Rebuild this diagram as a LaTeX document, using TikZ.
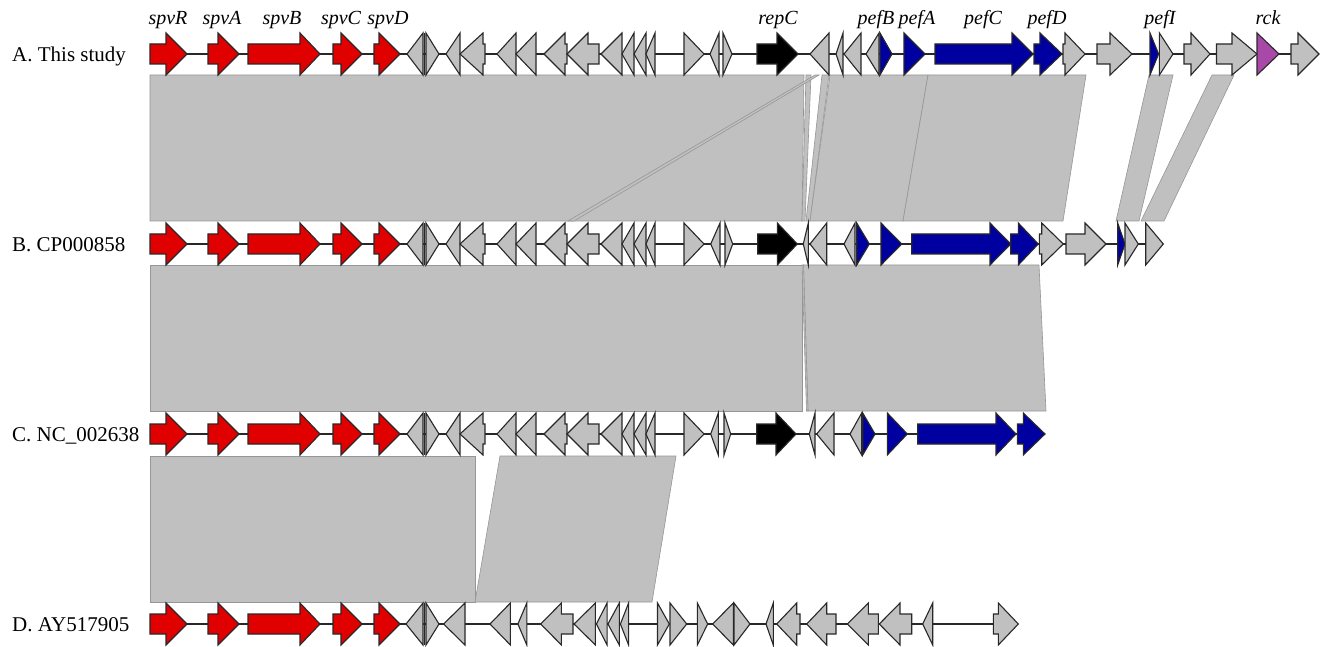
\documentclass[tikz,border=0pt]{standalone}
\usepackage{fontspec}
\setmainfont{Liberation Serif}
\definecolor{gred}{RGB}{224,0,0}
\definecolor{gblue}{RGB}{0,0,160}
\definecolor{ggray}{RGB}{192,192,192}
\definecolor{gpurple}{RGB}{168,72,168}
\definecolor{bandc}{RGB}{192,192,192}
\definecolor{bandedge}{RGB}{150,150,150}
\definecolor{edgec}{RGB}{40,40,40}
\tikzset{
  genebase/.style={draw=edgec, line width=1.1pt, line join=miter},
  redg/.style={genebase, fill=gred},
  blueg/.style={genebase, fill=gblue},
  grayg/.style={genebase, fill=ggray},
  blackg/.style={genebase, fill=black},
  purpleg/.style={genebase, fill=gpurple},
  backbone/.style={draw=edgec, line width=1.2pt},
  thinline/.style={draw=edgec, line width=1.1pt},
  band/.style={fill=bandc, draw=bandedge, line width=0.6pt},
  trklab/.style={font=\fontsize{21}{24}\selectfont, anchor=base west, inner sep=0pt},
  genelab/.style={font=\fontsize{20}{22}\selectfont\itshape, anchor=base, inner sep=0pt},
}
% y, tail, head base, tip, style
\newcommand{\garr}[5]{\filldraw[#5] (#2,#1-10) -- (#3,#1-10) -- (#3,#1-21) -- (#4,#1) -- (#3,#1+21) -- (#3,#1+10) -- (#2,#1+10) -- cycle;}
% y, base, tip, style
\newcommand{\gtri}[4]{\filldraw[#4] (#2,#1-21) -- (#3,#1) -- (#2,#1+21) -- cycle;}
% y, x : a gene too small to show a shape
\newcommand{\gbar}[2]{\draw[thinline] (#2,#1-21) -- (#2,#1+21);}
\newcommand{\redset}[1]{%
  \garr{#1}{150}{166}{187}{redg}
  \garr{#1}{208}{218}{239}{redg}
  \garr{#1}{248}{300}{320}{redg}
  \garr{#1}{333}{341}{362}{redg}
  \garr{#1}{374}{379}{400}{redg}}
\newcommand{\graycommon}[1]{%
  \gtri{#1}{423}{407}{grayg}
  \gbar{#1}{424.5}
  \gtri{#1}{426}{439}{grayg}
  \gtri{#1}{460}{446}{grayg}
  \garr{#1}{485}{483}{460}{grayg}
  \gtri{#1}{516}{497}{grayg}
  \gtri{#1}{536}{516}{grayg}
  \garr{#1}{567}{565}{544}{grayg}
  \garr{#1}{599}{588}{567}{grayg}
  \gtri{#1}{622}{601}{grayg}
  \gtri{#1}{634}{622}{grayg}
  \gtri{#1}{646}{634}{grayg}
  \gtri{#1}{655}{646}{grayg}
  \gtri{#1}{684}{704}{grayg}}
\begin{document}
\begin{tikzpicture}[x=1pt,y=-1pt]
\useasboundingbox (0,0) rectangle (1331,647);
\fill[white] (0,0) rectangle (1331,647);

% ---------- comparison bands A-B ----------
\filldraw[band] (150,75) -- (804,75) -- (802,221) -- (150,221) -- cycle;
\filldraw[band] (806,75) -- (811,75) -- (805,221) -- (802,221) -- cycle;
\filldraw[band] (822,75) -- (829,75) -- (810,221) -- (806,221) -- cycle;
\filldraw[band] (830,75) -- (928,75) -- (903,221) -- (810,221) -- cycle;
\filldraw[band] (928,75) -- (1086,75) -- (1063,221) -- (903,221) -- cycle;
\filldraw[band] (815,75) -- (819,75) -- (574,221) -- (568,221) -- cycle;
\filldraw[band] (1149,75) -- (1173,75) -- (1139,221) -- (1116,221) -- cycle;
\filldraw[band] (1212,75) -- (1234,75) -- (1164,221) -- (1141,221) -- cycle;

% ---------- comparison bands B-C ----------
\filldraw[band] (150,265) -- (802,265) -- (802,411) -- (150,411) -- cycle;
\filldraw[band] (803.5,265) -- (1039,265) -- (1046,411) -- (808,411) -- cycle;
\filldraw[band] (802,265) -- (803.5,265) -- (808,411) -- (806.5,411) -- cycle;

% ---------- comparison bands C-D ----------
\filldraw[band] (150,456) -- (475,456) -- (475,602) -- (150,602) -- cycle;
\filldraw[band] (500,456) -- (676,456) -- (652,602) -- (475,602) -- cycle;

% ---------- track labels ----------
\node[trklab] (labA) at (12,61.5) {A. This study};
\node[trklab] (labB) at (12,251.5) {B. CP000858};
\node[trklab] (labC) at (12,441.5) {C. NC\_002638};
\node[trklab] (labD) at (12,631.5) {D. AY517905};

% ---------- gene names ----------
\node[genelab] (nspvR) at (168,24.5) {spvR};
\node[genelab] (nspvA) at (222,24.5) {spvA};
\node[genelab] (nspvB) at (282,24.5) {spvB};
\node[genelab] (nspvC) at (341,24.5) {spvC};
\node[genelab] (nspvD) at (388,24.5) {spvD};
\node[genelab] (nrepC) at (778,24.5) {repC};
\node[genelab] (npefB) at (876,24.5) {pefB};
\node[genelab] (npefA) at (917,24.5) {pefA};
\node[genelab] (npefC) at (983,24.5) {pefC};
\node[genelab] (npefD) at (1047,24.5) {pefD};
\node[genelab] (npefI) at (1160,24.5) {pefI};
\node[genelab] (nrck) at (1268,24.5) {rck};

% ---------- track A ----------
\draw[backbone] (150,54) -- (1319,54);
\redset{54}
\graycommon{54}
\gtri{54}{719}{710}{grayg}
\gtri{54}{723}{732}{grayg}
\garr{54}{757}{777}{798}{blackg}
\gtri{54}{829}{810}{grayg}
\gtri{54}{843}{836}{grayg}
\gtri{54}{861}{844}{grayg}
\gtri{54}{879}{866}{grayg}
\gtri{54}{880}{892}{blueg}
\gtri{54}{904}{925}{blueg}
\garr{54}{935}{1012}{1033}{blueg}
\garr{54}{1034}{1040}{1062}{blueg}
\garr{54}{1063}{1065}{1085}{grayg}
\garr{54}{1097}{1110}{1132}{grayg}
\gtri{54}{1150}{1158.6}{blueg}
\gtri{54}{1159.4}{1173}{grayg}
\garr{54}{1184}{1191}{1210}{grayg}
\garr{54}{1216.5}{1232}{1257}{grayg}
\gtri{54}{1257}{1279}{purpleg}
\garr{54}{1291}{1298}{1319}{grayg}

% ---------- track B ----------
\draw[backbone] (150,244) -- (1163,244);
\redset{244}
\graycommon{244}
\gtri{244}{720}{710.7}{grayg}
\gtri{244}{725}{732.7}{grayg}
\garr{244}{757.7}{777.3}{797.3}{blackg}
\gtri{244}{808.3}{803.3}{grayg}
\gtri{244}{826.7}{810}{grayg}
\gtri{244}{855}{844}{grayg}
\gtri{244}{856.7}{869.3}{blueg}
\gtri{244}{881}{901.7}{blueg}
\garr{244}{911.7}{990}{1010.7}{blueg}
\garr{244}{1010.7}{1018.3}{1038.3}{blueg}
\garr{244}{1039.3}{1041.7}{1063.3}{grayg}
\garr{244}{1066}{1085}{1106}{grayg}
\gtri{244}{1117.7}{1125}{blueg}
\gtri{244}{1125}{1138.3}{grayg}
\gtri{244}{1145.7}{1163.3}{grayg}

% ---------- track C ----------
\draw[backbone] (150,434) -- (1045,434);
\redset{434}
\graycommon{434}
\gtri{434}{718.3}{710.7}{grayg}
\gtri{434}{724}{730.7}{grayg}
\garr{434}{756.7}{776}{796}{blackg}
\gtri{434}{815}{809.3}{grayg}
\gtri{434}{834}{816.7}{grayg}
\gtri{434}{861.7}{850}{grayg}
\gtri{434}{862.7}{875}{blueg}
\gtri{434}{887.3}{907.3}{blueg}
\garr{434}{917.7}{996}{1016}{blueg}
\garr{434}{1017.3}{1023.3}{1045}{blueg}

% ---------- track D ----------
\draw[backbone] (150,624) -- (1018,624);
\redset{624}
\gtri{624}{423}{406}{grayg}
\gbar{624}{424.5}
\gtri{624}{426}{439}{grayg}
\gtri{624}{465}{443.6}{grayg}
\gtri{624}{510.4}{490}{grayg}
\gtri{624}{526.8}{517.9}{grayg}
\garr{624}{573}{561.4}{540.7}{grayg}
\gtri{624}{595.4}{574}{grayg}
\gtri{624}{607.1}{596.4}{grayg}
\gtri{624}{619.3}{607.9}{grayg}
\gtri{624}{628.6}{620.4}{grayg}
\gtri{624}{657.5}{669.3}{grayg}
\gtri{624}{670}{686.7}{grayg}
\gtri{624}{697.3}{707.7}{grayg}
\gtri{624}{733.3}{712.7}{grayg}
\gtri{624}{734}{750}{grayg}
\gtri{624}{773.3}{766}{grayg}
\garr{624}{800}{796.7}{776.7}{grayg}
\garr{624}{836}{826.7}{806.7}{grayg}
\garr{624}{878.3}{868.3}{847.3}{grayg}
\garr{624}{911.7}{900}{879.3}{grayg}
\gtri{624}{932.7}{922.7}{grayg}
\garr{624}{993.3}{998.3}{1018.3}{grayg}
\end{tikzpicture}
\end{document}
